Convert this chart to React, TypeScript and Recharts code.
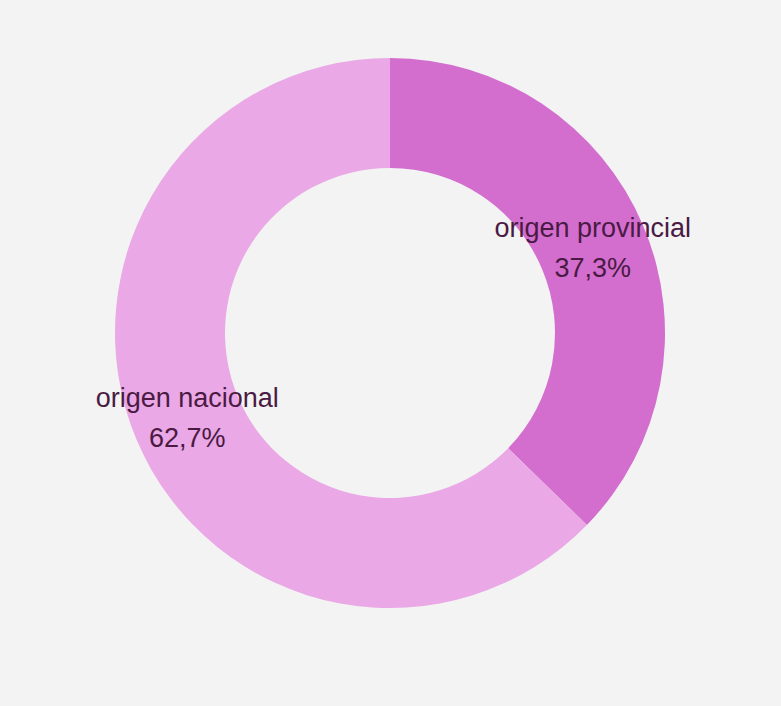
import { Pie, PieChart, Cell } from "recharts";

const categories = ["origen provincial", "origen nacional"];
const shares = [37.3, 62.7];
const colors = ["#d36ecf", "#eaa8e6"];

const data = categories.map((name, i) => ({ name, value: shares[i] }));

const RAD = Math.PI / 180;

function renderLabel(props: any) {
  const { cx, cy, midAngle, innerRadius, outerRadius, index } = props;
  const r = (innerRadius + outerRadius) / 2;
  const x = cx + r * Math.cos(-midAngle * RAD);
  const y = cy + r * Math.sin(-midAngle * RAD);
  const pct = shares[index].toFixed(1).replace(".", ",") + "%";
  return (
    <text
      x={x}
      y={y}
      fill="#4a1a43"
      textAnchor="middle"
      fontFamily="'Liberation Sans', Arial, sans-serif"
      fontSize={27}
    >
      <tspan x={x} y={y - 20} dominantBaseline="central">
        {categories[index]}
      </tspan>
      <tspan x={x} y={y + 20} dominantBaseline="central">
        {pct}
      </tspan>
    </text>
  );
}

export default function App() {
  return (
    <div
      style={{
        position: "absolute",
        top: 0,
        left: 0,
        width: 781,
        height: 706,
        background: "#f2f3f2",
      }}
    >
      <PieChart width={781} height={706} margin={{ top: 0, right: 0, bottom: 0, left: 0 }}>
        <Pie
          data={data}
          dataKey="value"
          nameKey="name"
          cx={390}
          cy={333}
          innerRadius={165}
          outerRadius={275}
          startAngle={90}
          endAngle={-270}
          stroke="none"
          label={renderLabel}
          labelLine={false}
          isAnimationActive={false}
        >
          {data.map((d, i) => (
            <Cell key={d.name} fill={colors[i]} />
          ))}
        </Pie>
      </PieChart>
    </div>
  );
}
